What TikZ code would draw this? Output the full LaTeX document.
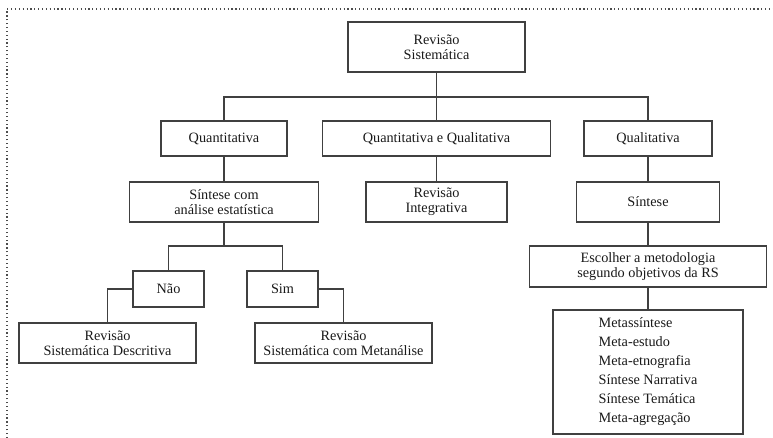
\documentclass[tikz,border=0pt]{standalone}
\usepackage{fontspec}
\setmainfont{Liberation Serif}
\begin{document}
\begin{tikzpicture}[x=0.75pt,y=-0.75pt,
  box/.style={draw=black!75, line width=1.1pt, rectangle, align=center, inner sep=0pt,
    font=\fontsize{10.7}{11.4}\selectfont, text=black!90},
  conn/.style={draw=black!75, line width=1.2pt}]
\useasboundingbox (0,0) rectangle (773,438);
\draw[black!70, dotted, line width=0.9pt] (7,438) -- (7,9) -- (773,9);
\node[box, minimum width=132.75pt, minimum height=37.5pt] (root) at (436.5,47) {Revisão\\Sistemática};
\node[box, minimum width=94.5pt, minimum height=26.25pt] (quant) at (224,138.5) {Quantitativa};
\node[box, minimum width=171pt, minimum height=26.25pt] (qq) at (436.5,138.5) {Quantitativa e Qualitativa};
\node[box, minimum width=96pt, minimum height=26.25pt] (qual) at (648,138.5) {Qualitativa};
\node[box, minimum width=141.75pt, minimum height=30pt] (sintcom) at (224,202) {Síntese com\\análise estatística};
\node[box, minimum width=105.75pt, minimum height=30pt] (revint) at (436.5,202) {Revisão\\Integrativa};
\node[box, minimum width=107.25pt, minimum height=30pt] (sint) at (648,202) {Síntese};
\node[box, minimum width=177.75pt, minimum height=30.75pt] (esc) at (648,266.5) {Escolher a metodologia\\segundo objetivos da RS};
\node[box, minimum width=142.5pt, minimum height=93pt, font=\fontsize{10.7}{14.25}\selectfont, align=left] (meth) at (648,372) {Metassíntese\\Meta-estudo\\Meta-etnografia\\Síntese Narrativa\\Síntese Temática\\Meta-agregação};
\node[box, minimum width=53.25pt, minimum height=27pt] (nao) at (168.5,289) {Não};
\node[box, minimum width=53.25pt, minimum height=27pt] (sim) at (282.5,289) {Sim};
\node[box, minimum width=132.75pt, minimum height=30pt] (rsd) at (107.5,343) {Revisão\\Sistemática Descritiva};
\node[box, minimum width=132.75pt, minimum height=30pt] (rsm) at (343.5,343) {Revisão\\Sistemática com Metanálise};
\coordinate (bus) at (436.5,97);
\coordinate (j) at (224,246);
\draw[conn] (root.south) -- (qq.north);
\draw[conn] (quant.north) |- (bus) -| (qual.north);
\draw[conn] (quant.south) -- (sintcom.north);
\draw[conn] (qq.south) -- (revint.north);
\draw[conn] (qual.south) -- (sint.north);
\draw[conn] (sint.south) -- (esc.north);
\draw[conn] (esc.south) -- (meth.north);
\draw[conn] (sintcom.south) -- (j);
\draw[conn] (nao.north) |- (j) -| (sim.north);
\draw[conn] (nao.west) -| (rsd.north);
\draw[conn] (sim.east) -| (rsm.north);
\end{tikzpicture}
\end{document}
